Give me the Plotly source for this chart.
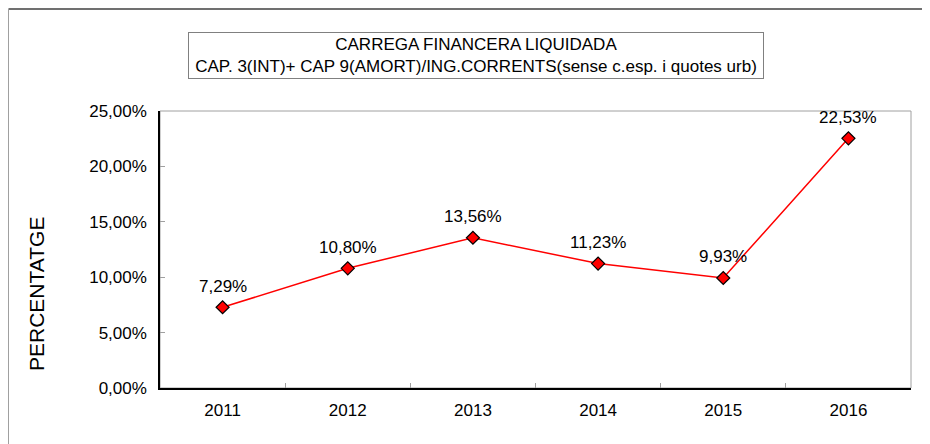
import plotly.graph_objects as go

years = ["2011", "2012", "2013", "2014", "2015", "2016"]
values = [0.0729, 0.1080, 0.1356, 0.1123, 0.0993, 0.2253]
y_ticks = [0, 0.05, 0.10, 0.15, 0.20, 0.25]

# the page body has an 8px margin; figure coords = page coords - 8
OFF = 8
W, H = 930, 444
L, T = 160 - OFF, 111 - OFF
R = W - (911 - OFF)
B = H - (388 - OFF)
pw, ph = W - L - R, H - T - B

def px_x(xpage):
    return (xpage - OFF - L) / pw

def px_y(ypage):
    return (H - B - (ypage - OFF)) / ph

font = "Liberation Sans, Arial, sans-serif"
FS = 17

fig = go.Figure()
fig.add_trace(go.Scatter(
    x=years, y=values, mode="lines+markers",
    line=dict(color="#ff0000", width=1.5),
    marker=dict(symbol="diamond", size=10, color="#ff0000",
                line=dict(color="#000000", width=1.2)),
    hoverinfo="skip", showlegend=False, cliponaxis=False,
))

annotations = []
for i, v in enumerate(values):
    annotations.append(dict(
        x=i, y=v, xref="x", yref="y",
        text=f"{v*100:.2f}%".replace(".", ","),
        showarrow=False, yshift=21,
        font=dict(family=font, size=FS, color="#000000"),
    ))

annotations.append(dict(
    x=px_x(475.5), y=px_y(55), xref="paper", yref="paper",
    xanchor="center", yanchor="middle",
    text="CARREGA FINANCERA LIQUIDADA<br>CAP. 3(INT)+ CAP 9(AMORT)/ING.CORRENTS(sense c.esp. i quotes urb)",
    showarrow=False, align="center",
    font=dict(family=font, size=FS, color="#000000"),
    bordercolor="#808080", borderwidth=1, borderpad=2, bgcolor="#ffffff",
    width=570,
))

# y-axis title (placed like the reference, below plot centre)
annotations.append(dict(
    x=px_x(36), y=px_y(294), xref="paper", yref="paper",
    xanchor="center", yanchor="middle", textangle=-90,
    text="PERCENTATGE", showarrow=False,
    font=dict(family=font, size=21, color="#000000"),
))

shapes = [
    dict(type="rect", xref="paper", yref="paper", x0=0, y0=0, x1=1, y1=1,
         line=dict(color="#a0a0a0", width=1), layer="below"),
    dict(type="line", xref="paper", yref="paper", x0=px_x(8.5), x1=px_x(W + 20),
         y0=px_y(9), y1=px_y(9), line=dict(color="#707070", width=2)),
    dict(type="line", xref="paper", yref="paper", x0=px_x(8.5), x1=px_x(8.5),
         y0=px_y(9), y1=px_y(H + 20), line=dict(color="#a0a0a0", width=1)),
]

fig.update_layout(
    width=W, height=H,
    margin=dict(l=L, r=R, t=T, b=B, pad=0),
    paper_bgcolor="#ffffff", plot_bgcolor="#ffffff",
    separators=",.",
    font=dict(family=font, size=FS, color="#000000"),
    annotations=annotations, shapes=shapes,
    xaxis=dict(
        type="category", tickson="boundaries", ticks="inside", ticklen=5,
        tickcolor="#a0a0a0", showgrid=False, zeroline=False,
        showline=True, linecolor="#000000", linewidth=1.5,
        range=[-0.5, 5.5], ticklabelstandoff=6,
        tickfont=dict(family=font, size=FS, color="#000000"),
    ),
    yaxis=dict(
        range=[0, 0.25], tickvals=y_ticks, tickformat=".2%",
        ticks="inside", ticklen=5, tickcolor="#a0a0a0",
        showgrid=False, zeroline=False,
        showline=True, linecolor="#000000", linewidth=1.5,
        ticklabelstandoff=8,
        tickfont=dict(family=font, size=FS, color="#000000"),
    ),
)

fig.write_html("out.html")
